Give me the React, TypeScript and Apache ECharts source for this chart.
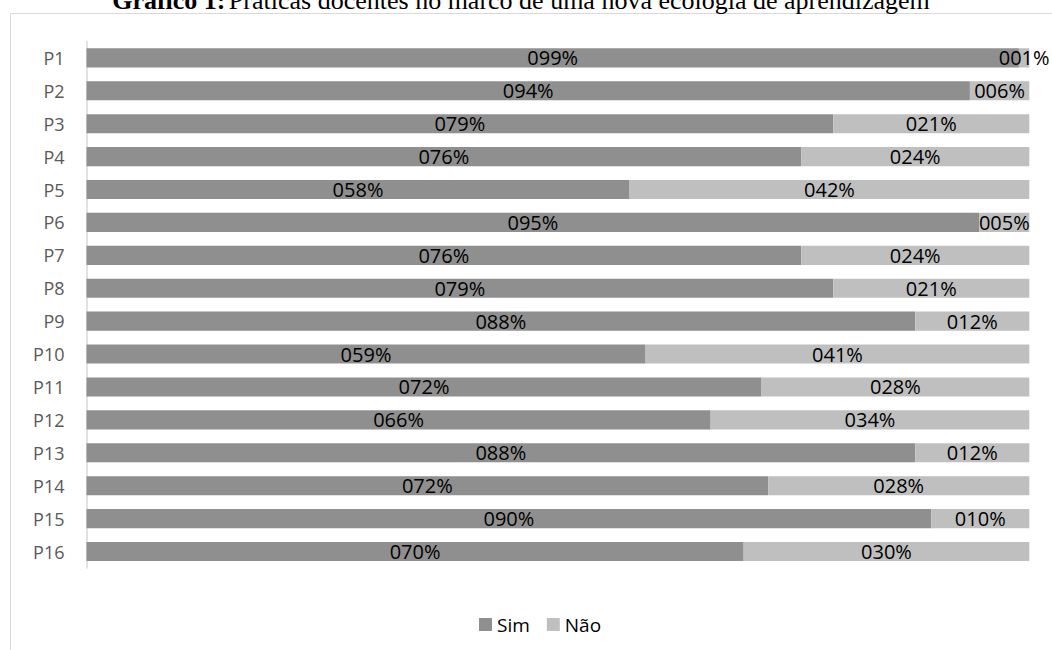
import React, { useEffect, useRef } from "react";
import * as echarts from "echarts";

const categories = ["P1","P2","P3","P4","P5","P6","P7","P8","P9","P10","P11","P12","P13","P14","P15","P16"];
const simValues = [98.9, 93.7, 79.2, 75.8, 57.6, 94.7, 75.8, 79.2, 87.9, 59.3, 71.6, 66.2, 87.9, 72.3, 89.6, 69.7];
const naoValues = [1.1, 6.3, 20.8, 24.2, 42.4, 5.3, 24.2, 20.8, 12.1, 40.7, 28.4, 33.8, 12.1, 27.7, 10.4, 30.3];
const seriesNames = ["Sim", "Não"];

const fmt = (v: number) => String(Math.round(v)).padStart(3, "0") + "%";

export default function App() {
  const ref = useRef<HTMLDivElement>(null);
  useEffect(() => {
    if (!ref.current) return;
    const chart = echarts.init(ref.current, null, { renderer: "svg" });
    const labelStyle = {
      show: true,
      position: "inside" as const,
      color: "#000",
      fontSize: 20,
      fontFamily: "Open Sans",
      formatter: (p: any) => fmt(p.value),
    };
    chart.setOption({
      animation: false,
      backgroundColor: "#fff",
      graphic: [
        {
          type: "rect",
          shape: { x: 10.5, y: 13.5, width: 1100, height: 700 },
          style: { fill: "none", stroke: "#d9d9d9", lineWidth: 1 },
          silent: true,
        },
        {
          type: "text",
          x: 521,
          y: 0.5,
          style: {
            text: "{b|Gráfico 1:} {n|Práticas docentes no marco de uma nova ecologia de aprendizagem}",
            textAlign: "center",
            textVerticalAlign: "middle",
            rich: {
              b: { fontFamily: "Liberation Serif", fontSize: 26, fontWeight: "bold", fill: "#000" },
              n: { fontFamily: "Liberation Serif", fontSize: 26, fill: "#000" },
            },
          },
        },
      ],
      legend: {
        data: seriesNames,
        left: 474,
        top: 610,
        itemWidth: 13,
        itemHeight: 13,
        itemGap: 17,
        icon: "rect",
        textStyle: { fontFamily: "Open Sans", fontSize: 19, color: "#000" },
      },
      grid: { left: 86.5, top: 41.4, width: 942.8, height: 526.6, containLabel: false },
      xAxis: {
        type: "value",
        min: 0,
        max: 100,
        show: false,
        splitLine: { show: false },
      },
      yAxis: {
        type: "category",
        data: categories,
        inverse: true,
        axisLine: { show: true, lineStyle: { color: "#d9d9d9", width: 1.5 } },
        axisTick: { show: false },
        axisLabel: { color: "#595959", fontSize: 18, fontFamily: "Open Sans", margin: 22 },
      },
      series: [
        {
          name: seriesNames[0],
          type: "bar",
          stack: "total",
          data: simValues,
          barCategoryGap: "42%",
          itemStyle: { color: "#8f8f8f" },
          label: labelStyle,
        },
        {
          name: seriesNames[1],
          type: "bar",
          stack: "total",
          data: naoValues,
          barCategoryGap: "42%",
          itemStyle: { color: "#bfbfbf" },
          label: labelStyle,
        },
      ],
    });
    return () => chart.dispose();
  }, []);
  return (
    <div
      ref={ref}
      style={{ position: "fixed", left: 0, top: 0, width: 1052, height: 650 }}
    />
  );
}
